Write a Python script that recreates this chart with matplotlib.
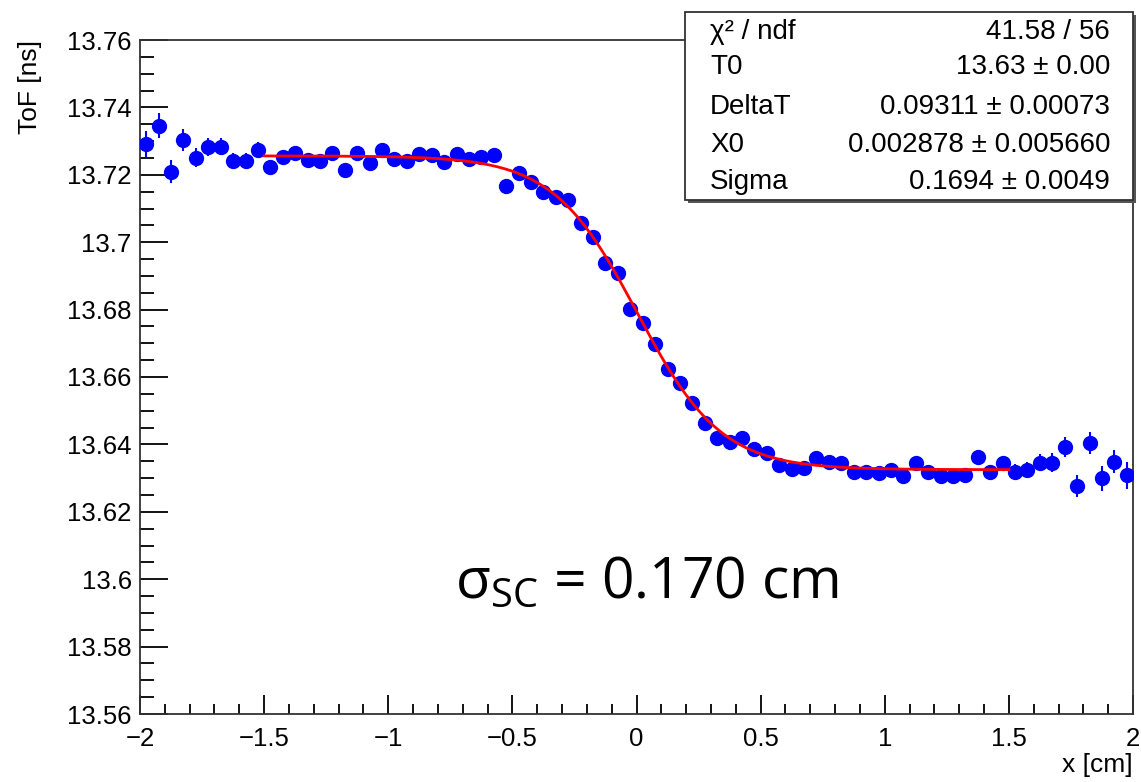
import numpy as np
import matplotlib.pyplot as plt
from matplotlib.ticker import MultipleLocator, FuncFormatter
from matplotlib.patches import Rectangle

# histogram bins: 80 bins of 0.05 cm from -2 to 2
x = np.round(np.arange(-1.975, 2.0, 0.05), 3)
tof = [13.7291, 13.7346, 13.7209, 13.7303, 13.7251, 13.7282, 13.7283, 13.7241, 13.7241, 13.7274,
       13.7224, 13.7252, 13.7264, 13.7244, 13.7241, 13.7264, 13.7214, 13.7264, 13.7236, 13.7274,
       13.7247, 13.7241, 13.7261, 13.7259, 13.7239, 13.7261, 13.7247, 13.7254, 13.7259, 13.7167,
       13.7204, 13.7178, 13.7150, 13.7135, 13.7125, 13.7056, 13.7015, 13.6939, 13.6908, 13.6803,
       13.6761, 13.6698, 13.6623, 13.6583, 13.6524, 13.6464, 13.6418, 13.6408, 13.6418, 13.6385,
       13.6375, 13.6339, 13.6326, 13.6329, 13.6359, 13.6349, 13.6344, 13.6319, 13.6319, 13.6316,
       13.6324, 13.6306, 13.6344, 13.6319, 13.6305, 13.6305, 13.6309, 13.6364, 13.6319, 13.6346,
       13.6319, 13.6324, 13.6346, 13.6346, 13.6393, 13.6277, 13.6405, 13.6299, 13.6349, 13.6309]
err = [0.0040, 0.0037, 0.0034, 0.0032, 0.0028, 0.0027, 0.0025, 0.0024, 0.0023, 0.0022,
       0.0020, 0.0020, 0.0020, 0.0020, 0.0020, 0.0020, 0.0020, 0.0020, 0.0020, 0.0020,
       0.0017, 0.0017, 0.0017, 0.0017, 0.0017, 0.0017, 0.0017, 0.0017, 0.0017, 0.0017,
       0.0017, 0.0017, 0.0017, 0.0017, 0.0017, 0.0017, 0.0017, 0.0017, 0.0017, 0.0017,
       0.0017, 0.0017, 0.0017, 0.0017, 0.0017, 0.0017, 0.0017, 0.0017, 0.0017, 0.0017,
       0.0017, 0.0017, 0.0017, 0.0017, 0.0017, 0.0017, 0.0017, 0.0017, 0.0017, 0.0017,
       0.0020, 0.0020, 0.0020, 0.0020, 0.0020, 0.0020, 0.0020, 0.0020, 0.0020, 0.0020,
       0.0022, 0.0024, 0.0026, 0.0028, 0.0030, 0.0032, 0.0033, 0.0036, 0.0034, 0.0040]

# fit parameters (T0 as shown is rounded)
T0 = 13.6325
DeltaT = 0.09311
X0 = 0.002878
Sigma = 0.1694
fit_range = (-1.5, 1.5)

stat_names = ['\u03c7\u00b2 / ndf', 'T0', 'DeltaT', 'X0', 'Sigma']
stat_vals = ['41.58 / 56', '13.63 \u00b1 0.00', '0.09311 \u00b1 0.00073',
             '0.002878 \u00b1 0.005660', '0.1694 \u00b1 0.0049']

plt.rcParams['font.family'] = ['Liberation Sans', 'DejaVu Sans']
W, H = 1141, 782
fig = plt.figure(figsize=(W / 100, H / 100), dpi=100)
ax = fig.add_axes([140 / W, 1 - 714 / H, (1133 - 140) / W, (714 - 40) / H])

ax.errorbar(x, tof, yerr=err, fmt='o', color='blue', ms=10, elinewidth=1.5,
            capsize=0, zorder=3)
xf = np.linspace(fit_range[0], fit_range[1], 400)
ax.plot(xf, T0 + DeltaT / (1 + np.exp((xf - X0) / Sigma)), color='red', lw=2, zorder=4)

ax.set_xlim(-2, 2)
ax.set_ylim(13.56, 13.76)
ax.xaxis.set_major_locator(MultipleLocator(0.5))
ax.xaxis.set_minor_locator(MultipleLocator(0.1))
ax.yaxis.set_major_locator(MultipleLocator(0.02))
ax.yaxis.set_minor_locator(MultipleLocator(0.005))
fmt = FuncFormatter(lambda v, p: ('%g' % round(v, 4)).replace('-', '\u2212'))
ax.xaxis.set_major_formatter(fmt)
ax.yaxis.set_major_formatter(fmt)
ax.tick_params(axis='y', which='major', direction='in', length=20, width=1.3, labelsize=18.5, pad=6)
ax.tick_params(axis='y', which='minor', direction='in', length=10, width=1.3)
ax.tick_params(axis='x', which='major', direction='in', length=14, width=1.3, labelsize=18.5, pad=9)
ax.tick_params(axis='x', which='minor', direction='in', length=7, width=1.3)
for s in ax.spines.values():
    s.set_linewidth(1.3)
    s.set_color('#333333')

fig.text(30 / W, 1 - 40 / H, 'ToF [ns]', rotation=90, ha='center', va='top', fontsize=19)
fig.text(1133 / W, 1 - 765 / H, 'x [cm]', ha='right', va='center', fontsize=19)

# stat box
bx0, by0, bx1, by1 = 685, 12, 1133, 200
fig.patches.append(Rectangle(((bx0 + 3) / W, 1 - (by1 + 3) / H), (bx1 - bx0) / W, (by1 - by0) / H,
                             transform=fig.transFigure, facecolor='#555555', edgecolor='none', zorder=5))
fig.patches.append(Rectangle((bx0 / W, 1 - by1 / H), (bx1 - bx0) / W, (by1 - by0) / H,
                             transform=fig.transFigure, facecolor='white', edgecolor='#333333',
                             lw=1.3, zorder=6))
rows_y = [32, 67, 107, 145, 182]
for name, val, yy in zip(stat_names, stat_vals, rows_y):
    fig.text(710 / W, 1 - yy / H, name, ha='left', va='center', fontsize=20, zorder=7)
    fig.text(1110 / W, 1 - yy / H, val, ha='right', va='center', fontsize=20, zorder=7)

fig.text(455 / W, 1 - 598 / H, r'$\mathregular{\sigma_{SC}}$ = 0.170 cm', ha='left', va='baseline',
         fontsize=41, family=['Open Sans', 'DejaVu Sans'])

fig.savefig('out.png', dpi=100)
